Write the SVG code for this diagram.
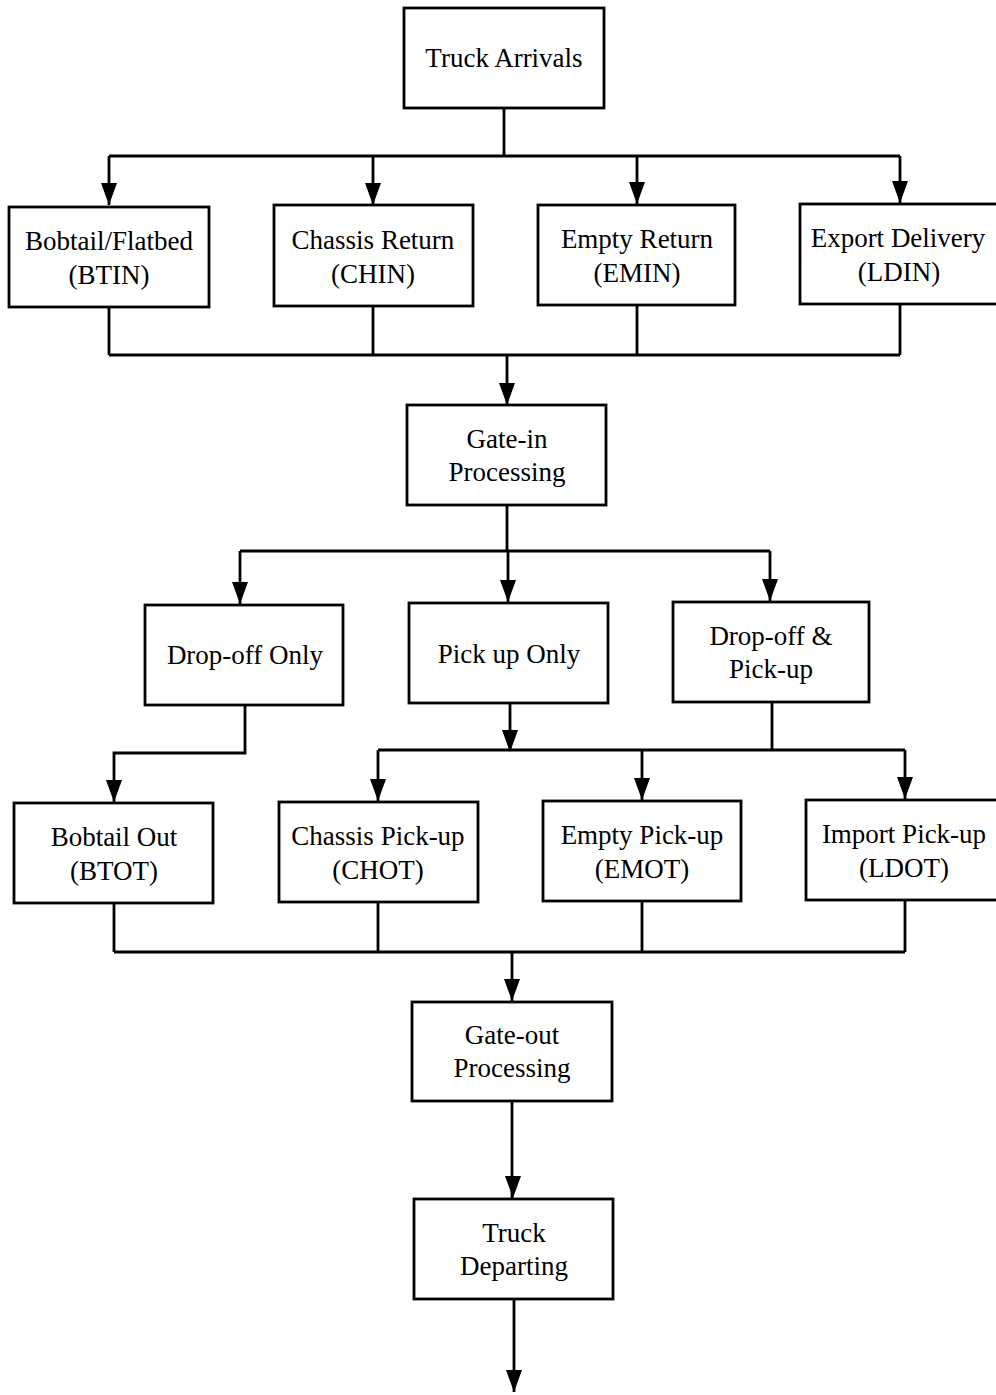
<svg xmlns="http://www.w3.org/2000/svg" width="996" height="1395" viewBox="0 0 996 1395">
<style>
.box{fill:#fff;stroke:#000;stroke-width:2.8}
.t{font-family:"Liberation Serif","Times New Roman",serif;font-size:27px;fill:#000;text-anchor:middle}
.c{fill:none;stroke:#000;stroke-width:2.8}
</style>
<rect width="996" height="1395" fill="#fff"/>
<g id="connectors">
<path class="c" d="M504,108 V156 M109,156 H900"/>
<path d="M109,156 V205 M373,156 V205 M637,156 V204 M900,156 V203" class="c"/>
<path class="c" d="M109,307 V355 M373,306 V355 M637,305 V355 M900,304 V355 M109,355 H900 M507,355 V405"/>
<path class="c" d="M507,505 V551 M240,551 H770 M240,551 V604 M508,551 V602 M770,551 V601"/>
<path class="c" d="M245,705 V753 H114 V802 M510,703 V750 M378,750 H905 M378,750 V801 M642,750 V800 M905,750 V799 M772,702 V750"/>
<path class="c" d="M114,903 V952 M378,902 V952 M642,901 V952 M905,900 V952 M114,952 H905 M512,952 V1001"/>
<path class="c" d="M512,1101 V1198 M514,1299 V1392"/>
<g fill="#000">
<path d="M101,183 L117,183 L109,205 Z"/>
<path d="M365,183 L381,183 L373,205 Z"/>
<path d="M629,182 L645,182 L637,204 Z"/>
<path d="M892,181 L908,181 L900,203 Z"/>
<path d="M499,383 L515,383 L507,405 Z"/>
<path d="M232,582 L248,582 L240,604 Z"/>
<path d="M500,580 L516,580 L508,602 Z"/>
<path d="M762,579 L778,579 L770,601 Z"/>
<path d="M502,730 L518,730 L510,752 Z"/>
<path d="M106,780 L122,780 L114,802 Z"/>
<path d="M370,779 L386,779 L378,801 Z"/>
<path d="M634,778 L650,778 L642,800 Z"/>
<path d="M897,777 L913,777 L905,799 Z"/>
<path d="M504,979 L520,979 L512,1001 Z"/>
<path d="M505,1176 L521,1176 L513,1198 Z"/>
<path d="M506,1370 L522,1370 L514,1392 Z"/>
</g>
</g>
<g id="truck-arrivals"><rect class="box" x="404" y="8" width="200" height="100"/><text class="t" x="504" y="67">Truck Arrivals</text></g>
<g id="btin"><rect class="box" x="9" y="207" width="200" height="100"/><text class="t" x="109" y="250">Bobtail/Flatbed</text><text class="t" x="109" y="284">(BTIN)</text></g>
<g id="chin"><rect class="box" x="274" y="205" width="199" height="101"/><text class="t" x="373" y="249">Chassis Return</text><text class="t" x="373" y="283">(CHIN)</text></g>
<g id="emin"><rect class="box" x="538" y="205" width="197" height="100"/><text class="t" x="637" y="248">Empty Return</text><text class="t" x="637" y="282">(EMIN)</text></g>
<g id="ldin"><rect class="box" x="800" y="204" width="198" height="100"/><text class="t" x="898" y="247">Export Delivery</text><text class="t" x="899" y="281">(LDIN)</text></g>
<g id="gate-in"><rect class="box" x="407" y="405" width="199" height="100"/><text class="t" x="507" y="448">Gate-in</text><text class="t" x="507" y="481">Processing</text></g>
<g id="drop-off-only"><rect class="box" x="145" y="605" width="198" height="100"/><text class="t" x="245" y="664">Drop-off Only</text></g>
<g id="pick-up-only"><rect class="box" x="409" y="603" width="199" height="100"/><text class="t" x="509" y="663">Pick up Only</text></g>
<g id="drop-off-pick-up"><rect class="box" x="673" y="602" width="196" height="100"/><text class="t" x="771" y="645">Drop-off &amp;</text><text class="t" x="771" y="678">Pick-up</text></g>
<g id="btot"><rect class="box" x="14" y="803" width="199" height="100"/><text class="t" x="114" y="846">Bobtail Out</text><text class="t" x="114" y="880">(BTOT)</text></g>
<g id="chot"><rect class="box" x="279" y="802" width="199" height="100"/><text class="t" x="378" y="845">Chassis Pick-up</text><text class="t" x="378" y="879">(CHOT)</text></g>
<g id="emot"><rect class="box" x="543" y="801" width="198" height="100"/><text class="t" x="642" y="844">Empty Pick-up</text><text class="t" x="642" y="878">(EMOT)</text></g>
<g id="ldot"><rect class="box" x="806" y="800" width="192" height="100"/><text class="t" x="904" y="843">Import Pick-up</text><text class="t" x="904" y="877">(LDOT)</text></g>
<g id="gate-out"><rect class="box" x="412" y="1002" width="200" height="99"/><text class="t" x="512" y="1044">Gate-out</text><text class="t" x="512" y="1077">Processing</text></g>
<g id="truck-departing"><rect class="box" x="414" y="1199" width="199" height="100"/><text class="t" x="514" y="1242">Truck</text><text class="t" x="514" y="1275">Departing</text></g>
</svg>
